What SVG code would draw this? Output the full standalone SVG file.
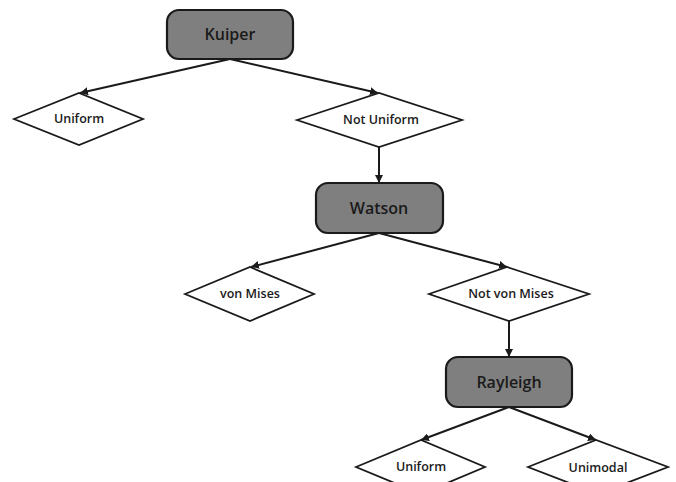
<svg xmlns="http://www.w3.org/2000/svg" width="676" height="482" viewBox="0 0 676 482">
<style>
.box{fill:#7f7f7f;stroke:#1a1a1a;stroke-width:2.2}
.dia{fill:#fff;stroke:#1a1a1a;stroke-width:1.8}
.t1{font-family:"Open Sans","Liberation Sans",sans-serif;font-size:16px;font-weight:600;fill:#1a1a1a;text-anchor:middle}
.t2{font-family:"Open Sans","Liberation Sans",sans-serif;font-size:12.5px;font-weight:600;fill:#1a1a1a;text-anchor:middle}
.edge{stroke:#1a1a1a;stroke-width:2;fill:none;marker-end:url(#ah)}
</style>
<defs>
<marker id="ah" viewBox="0 0 10 10" refX="10" refY="5" markerWidth="8" markerHeight="8" markerUnits="userSpaceOnUse" orient="auto">
<path d="M0,0 L10,5 L0,10 z" fill="#1a1a1a"/>
</marker>
</defs>
<rect width="676" height="482" fill="#fff"/>
<g id="connectors">
<line class="edge" x1="230" y1="59" x2="80" y2="93"/>
<line class="edge" x1="230" y1="59" x2="378" y2="93"/>
<line class="edge" x1="379" y1="147" x2="379" y2="183"/>
<line class="edge" x1="379" y1="233" x2="251" y2="267"/>
<line class="edge" x1="379" y1="233" x2="507" y2="267"/>
<line class="edge" x1="509" y1="321" x2="509" y2="357"/>
<line class="edge" x1="509" y1="407" x2="421" y2="440"/>
<line class="edge" x1="509" y1="407" x2="596" y2="440"/>
</g>
<g id="kuiper">
<rect class="box" x="167" y="10" width="126" height="49" rx="12"/>
<text class="t1" x="230" y="40">Kuiper</text>
</g>
<g id="uniform1">
<polygon class="dia" points="14,119 79,93 143,119 79,145"/>
<text class="t2" x="79" y="123">Uniform</text>
</g>
<g id="notuniform">
<polygon class="dia" points="297,120 379,93 462,120 379,147"/>
<text class="t2" x="381" y="124">Not Uniform</text>
</g>
<g id="watson">
<rect class="box" x="316" y="183" width="127" height="50" rx="12"/>
<text class="t1" x="379" y="214">Watson</text>
</g>
<g id="vonmises">
<polygon class="dia" points="185,294 250,267 314,294 250,321"/>
<text class="t2" x="250" y="298">von Mises</text>
</g>
<g id="notvonmises">
<polygon class="dia" points="429,294 507,267 589,294 509,321"/>
<text class="t2" x="511" y="298">Not von Mises</text>
</g>
<g id="rayleigh">
<rect class="box" x="446" y="357" width="126" height="50" rx="12"/>
<text class="t1" x="509" y="388">Rayleigh</text>
</g>
<g id="uniform2">
<polygon class="dia" points="356,467 421,440 485,467 421,494"/>
<text class="t2" x="421" y="471">Uniform</text>
</g>
<g id="unimodal">
<polygon class="dia" points="528,467 596,440 668,467 598,494"/>
<text class="t2" x="598" y="472">Unimodal</text>
</g>
</svg>
